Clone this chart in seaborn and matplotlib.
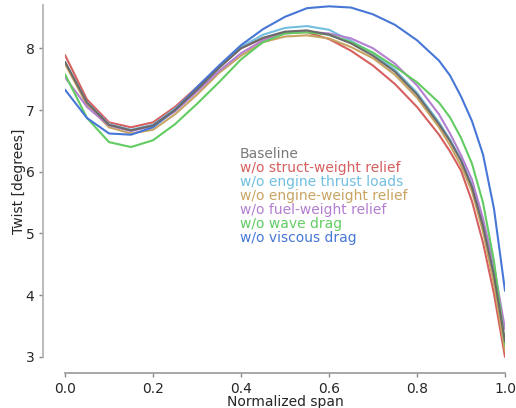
import numpy as np
import pandas as pd
import matplotlib
matplotlib.use("Agg")
import matplotlib.pyplot as plt
import seaborn as sns

span = [0.0, 0.05, 0.1, 0.15, 0.2, 0.25, 0.3, 0.35, 0.4, 0.45, 0.5, 0.55, 0.6,
        0.65, 0.7, 0.75, 0.8, 0.85, 0.875, 0.9, 0.925, 0.95, 0.975, 1.0]

baseline = [7.78, 7.12, 6.76, 6.67, 6.75, 7.00, 7.33, 7.68, 8.00, 8.17, 8.27, 8.29, 8.22,
            8.08, 7.88, 7.62, 7.25, 6.77, 6.50, 6.18, 5.75, 5.12, 4.32, 3.25]
no_struct = [7.89, 7.17, 6.80, 6.72, 6.80, 7.05, 7.37, 7.70, 8.00, 8.16, 8.26, 8.26, 8.15,
             7.96, 7.72, 7.42, 7.05, 6.60, 6.33, 6.02, 5.52, 4.85, 4.02, 3.00]
no_thrust = [7.78, 7.12, 6.77, 6.68, 6.76, 7.02, 7.35, 7.70, 8.02, 8.22, 8.33, 8.36, 8.30,
             8.12, 7.92, 7.65, 7.28, 6.80, 6.52, 6.20, 5.78, 5.14, 4.34, 3.22]
no_engine_w = [7.75, 7.08, 6.72, 6.62, 6.68, 6.93, 7.25, 7.60, 7.88, 8.10, 8.19, 8.21, 8.16,
               8.02, 7.84, 7.57, 7.20, 6.72, 6.43, 6.10, 5.68, 5.03, 4.18, 3.10]
no_fuel = [7.53, 7.05, 6.75, 6.66, 6.74, 6.98, 7.30, 7.63, 7.92, 8.13, 8.24, 8.27, 8.24,
           8.16, 8.00, 7.75, 7.40, 6.93, 6.62, 6.27, 5.87, 5.24, 4.48, 3.45]
no_wave = [7.58, 6.87, 6.48, 6.40, 6.51, 6.77, 7.10, 7.45, 7.82, 8.10, 8.24, 8.26, 8.22,
           8.10, 7.93, 7.70, 7.45, 7.12, 6.88, 6.55, 6.13, 5.50, 4.55, 3.20]
no_viscous = [7.33, 6.87, 6.62, 6.60, 6.72, 7.00, 7.37, 7.72, 8.05, 8.31, 8.51, 8.65, 8.68,
              8.66, 8.55, 8.38, 8.13, 7.80, 7.56, 7.22, 6.82, 6.28, 5.40, 4.07]

labels = ["Baseline", "w/o struct-weight relief", "w/o engine thrust loads",
          "w/o engine-weight relief", "w/o fuel-weight relief", "w/o wave drag",
          "w/o viscous drag"]
series = [baseline, no_struct, no_thrust, no_engine_w, no_fuel, no_wave, no_viscous]
colors = ["#6a6a6a", "#d65f5f", "#72bfe0", "#c8a462", "#b47fd0", "#62cc62", "#4777d6"]
text_colors = ["#7a7a7a", "#d65f5f", "#72bfe0", "#c8a462", "#b47fd0", "#62cc62", "#4777d6"]

rows = []
for lab, vals in zip(labels, series):
    for x, v in zip(span, vals):
        rows.append({"span": x, "twist": v, "case": lab})
df = pd.DataFrame(rows)

sns.set_theme(style="ticks")
plt.rcParams['font.family'] = ['DejaVu Sans']

fig = plt.figure(figsize=(5.16, 4.08), dpi=100)
ax = fig.add_axes([65/516, (408-360)/408, 440/516, 358/408])

draw_order = labels[1:] + labels[:1]
pal = dict(zip(labels, colors))
for lab in draw_order:
    sub = df[df["case"] == lab]
    sns.lineplot(data=sub, x="span", y="twist", color=pal[lab], lw=1.5,
                 ax=ax, legend=False, zorder=3 if lab == "Baseline" else 2)

ax.set_xlim(0, 1)
ax.set_ylim(2.95, 8.75)
ax.set_xticks([0.0, 0.2, 0.4, 0.6, 0.8, 1.0])
ax.set_yticks([3, 4, 5, 6, 7, 8])
ax.set_xlabel("Normalized span", fontsize=10, labelpad=-1)
ax.set_ylabel("Twist [degrees]", fontsize=10, labelpad=0)
ax.tick_params(labelsize=10, length=3, width=1, color="#888888", pad=3)
ax.tick_params(axis="x", pad=4)

sns.despine(ax=ax, offset={"left": 16, "bottom": 9})
ax.spines["left"].set_bounds(3, 8.7)
ax.spines["bottom"].set_bounds(0, 1)
ax.spines["left"].set_color("#b5b5b5")
ax.spines["bottom"].set_color("#a0a0a0")
ax.spines["left"].set_linewidth(1.3)
ax.spines["bottom"].set_linewidth(1.3)

from matplotlib.lines import Line2D
handles = [Line2D([], [], color=c, lw=0) for c in colors]
leg = ax.legend(handles, labels, loc="upper left", bbox_to_anchor=(0.398, 0.596),
                frameon=False, handlelength=0, handletextpad=0, borderpad=0,
                labelspacing=0.0, fontsize=10, labelcolor=text_colors, borderaxespad=0)

fig.savefig("out.png", dpi=100)
